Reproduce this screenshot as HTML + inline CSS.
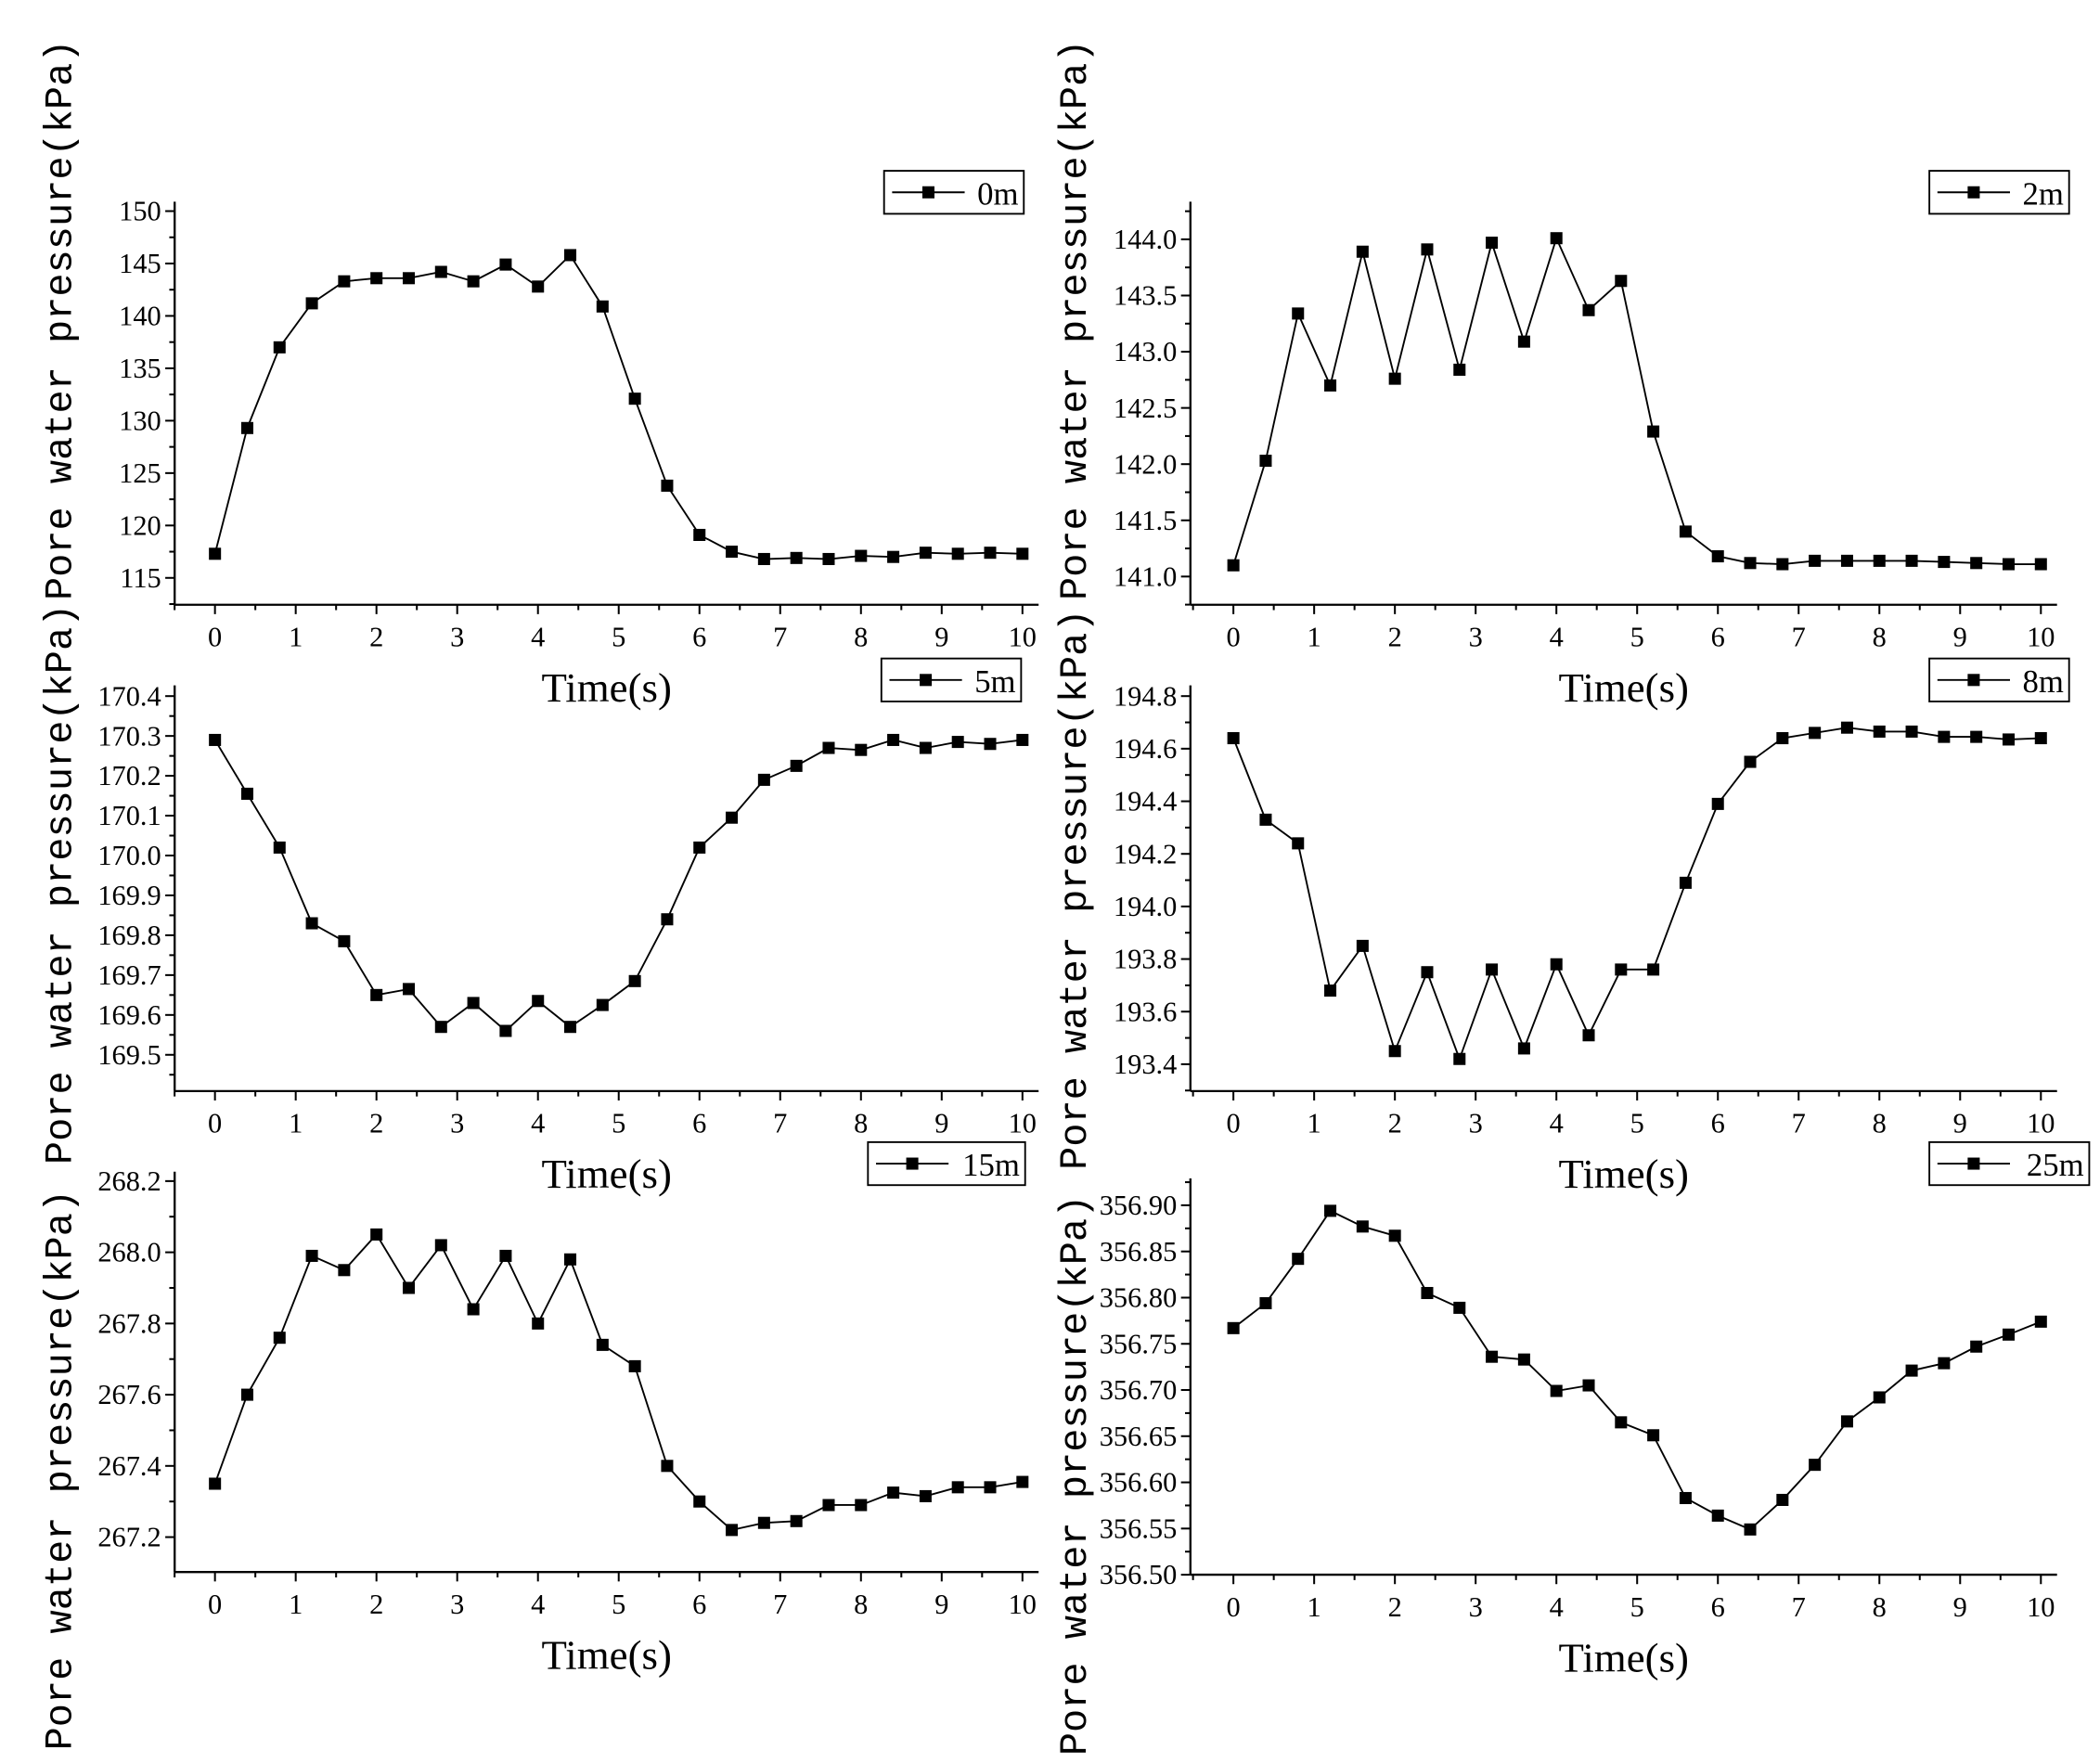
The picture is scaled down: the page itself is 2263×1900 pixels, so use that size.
<!DOCTYPE html>
<html><head><meta charset="utf-8"><style>
html,body{margin:0;padding:0;background:#fff;}
svg{display:block;}
</style></head><body>
<svg id="s" width="2263" height="1900" viewBox="0 0 1563 1312" xmlns="http://www.w3.org/2000/svg"></svg>
<script>
const S=document.getElementById('s');
let h='';
const P=[
 {ax:130,x0:160,x10:761,yb:450,yt:150,yMax:150,yMin:115,yTop:157,yBot:430,step:5,minor:2.5,dec:0,tc:238,
  leg:[658,127,104,'0m'],d:[117.3,129.3,137,141.2,143.3,143.6,143.6,144.2,143.3,144.9,142.8,145.8,140.9,132.1,123.8,119.1,117.5,116.8,116.9,116.8,117.1,117,117.4,117.3,117.4,117.3]},
 {ax:886,x0:918,x10:1519,yb:450,yt:150,yMax:144,yMin:141,yTop:178,yBot:429,step:0.5,minor:0.25,dec:1,tc:238,
  leg:[1436,127,104,'2m'],d:[141.1,142.03,143.34,142.7,143.89,142.76,143.91,142.84,143.97,143.09,144.01,143.37,143.63,142.29,141.4,141.18,141.12,141.11,141.14,141.14,141.14,141.14,141.13,141.12,141.11,141.11]},
 {ax:130,x0:160,x10:761,yb:812,yt:510,yMax:170.4,yMin:169.5,yTop:518,yBot:785,step:0.1,minor:0.05,dec:1,tc:658,
  leg:[656,490,104,'5m'],d:[170.29,170.155,170.02,169.83,169.785,169.65,169.665,169.57,169.63,169.56,169.635,169.57,169.625,169.685,169.84,170.02,170.095,170.19,170.225,170.27,170.265,170.29,170.27,170.285,170.28,170.29]},
 {ax:886,x0:918,x10:1519,yb:812,yt:510,yMax:194.8,yMin:193.4,yTop:518,yBot:792,step:0.2,minor:0.1,dec:1,tc:662,
  leg:[1436,490,104,'8m'],d:[194.64,194.33,194.24,193.68,193.85,193.45,193.75,193.42,193.76,193.46,193.78,193.51,193.76,193.76,194.09,194.39,194.55,194.64,194.66,194.68,194.665,194.665,194.645,194.645,194.635,194.64]},
 {ax:130,x0:160,x10:761,yb:1170,yt:872,yMax:268.2,yMin:267.2,yTop:879,yBot:1144,step:0.2,minor:0.1,dec:1,tc:1094,
  leg:[646,850,117,'15m'],d:[267.35,267.6,267.76,267.99,267.95,268.05,267.9,268.02,267.84,267.99,267.8,267.98,267.74,267.68,267.4,267.3,267.22,267.24,267.245,267.29,267.29,267.325,267.315,267.34,267.34,267.355]},
 {ax:886,x0:918,x10:1519,yb:1172,yt:877,yMax:356.9,yMin:356.5,yTop:897,yBot:1172,step:0.05,minor:0.025,dec:2,tc:1098,
  leg:[1436,850,119,'25m'],d:[356.767,356.794,356.842,356.894,356.877,356.867,356.805,356.789,356.736,356.733,356.699,356.705,356.665,356.651,356.583,356.564,356.549,356.581,356.619,356.666,356.692,356.721,356.729,356.747,356.76,356.774]}
];
const F='font-family="Liberation Serif, serif"';
P.forEach(p=>{
 const sx=(p.x10-p.x0)/10, X=v=>p.x0+v*sx;
 const sy=(p.yBot-p.yTop)/(p.yMax-p.yMin), Y=v=>p.yTop+(p.yMax-v)*sy;
 const xr=X(10.2);
 h+=`<line x1="${p.ax}" y1="${p.yt}" x2="${p.ax}" y2="${p.yb}" stroke="#000" stroke-width="1.6"/>`;
 h+=`<line x1="${p.ax}" y1="${p.yb}" x2="${xr}" y2="${p.yb}" stroke="#000" stroke-width="1.6"/>`;
 for(let i=-1;i<=20;i++){const v=i/2;if(v>10.2)continue;const x=X(v);if(x<p.ax-0.5)continue;
  h+=`<line x1="${x}" y1="${p.yb}" x2="${x}" y2="${p.yb+(i%2?4:7)}" stroke="#000" stroke-width="1.4"/>`;
  if(i%2==0)h+=`<text x="${x}" y="${p.yb+31}" font-size="21" text-anchor="middle" ${F}>${v}</text>`;}
 const n=Math.round((p.yMax-p.yMin)/p.minor);
 for(let k=-1;k<=n+2;k++){const v=p.yMin+k*p.minor;const y=Y(v);if(y>p.yb||y<p.yt-0.5)continue;
  const maj=k%2==0&&k>=0&&k<=n;
  h+=`<line x1="${p.ax}" y1="${y}" x2="${p.ax-(maj?7:4)}" y2="${y}" stroke="#000" stroke-width="1.4"/>`;
  if(maj)h+=`<text x="${p.ax-10}" y="${y+7}" font-size="21" text-anchor="end" ${F}>${v.toFixed(p.dec)}</text>`;}
 const cx=(p.ax+xr)/2;
 h+=`<text x="${cx}" y="${p.yb+72}" font-size="31" text-anchor="middle" ${F}>Time(s)</text>`;
 const tx=p.ax<500?53:808;
 h+=`<text transform="translate(${tx},${p.tc}) rotate(-90)" font-size="29" text-anchor="middle" font-family="Liberation Mono, monospace">Pore water pressure(kPa)</text>`;
 const pts=p.d.map((v,i)=>X(i*0.4).toFixed(1)+','+Y(v).toFixed(1)).join(' ');
 h+=`<polyline points="${pts}" fill="none" stroke="#000" stroke-width="1.3"/>`;
 p.d.forEach((v,i)=>{h+=`<rect x="${X(i*0.4)-4.5}" y="${Y(v)-4.5}" width="9" height="9" fill="#000"/>`;});
 const [lx,ly,lw,lt]=p.leg;
 h+=`<rect x="${lx}" y="${ly}" width="${lw}" height="32" fill="#fff" stroke="#000" stroke-width="1.3"/>`;
 h+=`<line x1="${lx+6}" y1="${ly+16}" x2="${lx+60}" y2="${ly+16}" stroke="#000" stroke-width="1.3"/>`;
 h+=`<rect x="${lx+28.5}" y="${ly+11.5}" width="9" height="9" fill="#000"/>`;
 h+=`<text x="${lx+lw-4}" y="${ly+25}" font-size="24" text-anchor="end" ${F}>${lt}</text>`;
});
S.innerHTML=h;
</script>
</body></html>
